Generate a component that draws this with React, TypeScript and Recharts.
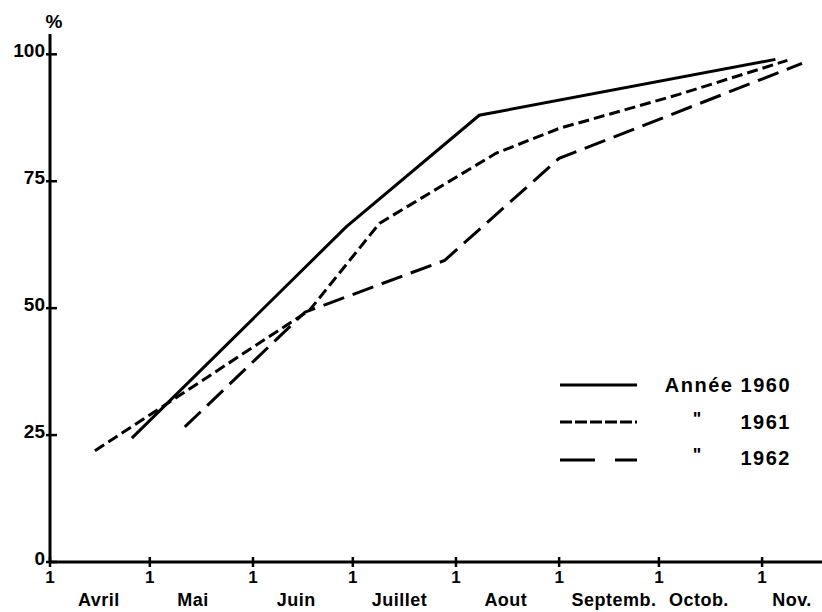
import React from 'react';
import { LineChart, Line, XAxis, YAxis, Legend, Customized } from 'recharts';

// Days counted from 1 April
const monthStartDays = [0, 30, 61, 91, 122, 153, 183, 214];
const monthStartLabels = ['1', '1', '1', '1', '1', '1', '1', '1'];
const monthNames = ['Avril', 'Mai', 'Juin', 'Juillet', 'Aout', 'Septemb.', 'Octob.', 'Nov.'];
const monthNameDays = [14.7, 43, 74, 105, 137, 169.5, 195, 223];

const yTicks = [0, 25, 50, 75, 100];

const legendLabels = ['Année 1960', '1961', '1962'];
const legendQuote = '"';

const days1960 = [24.6, 89, 129, 218];
const pct1960 = [24.4, 66, 88, 99];

const days1961 = [13.5, 78, 99, 134, 153, 189, 221.6];
const pct1961 = [21.9, 49.6, 66.7, 80.5, 85.4, 92.1, 98.8];

const days1962 = [40.5, 76.6, 118.6, 153, 226];
const pct1962 = [26.6, 49.2, 59.4, 79.5, 98.2];

const build = (d: number[], p: number[]) => d.map((day, i) => ({ day, v: p[i] }));
const data1960 = build(days1960, pct1960);
const data1961 = build(days1961, pct1961);
const data1962 = build(days1962, pct1962);

const FONT = '"Liberation Sans", Arial, sans-serif';

const XTick = (props: any) => {
  const { x, y, payload } = props;
  const v = payload.value;
  const si = monthStartDays.indexOf(v);
  if (si >= 0) {
    return (
      <g>
        <line x1={x} x2={x} y1={y - 5} y2={y + 5} stroke="#000" strokeWidth={2.5} />
        <text x={x} y={y + 21} textAnchor="middle" fontSize={17} fontWeight="bold" fontFamily={FONT} fill="#000">
          {monthStartLabels[si]}
        </text>
      </g>
    );
  }
  const mi = monthNameDays.indexOf(v);
  return (
    <text x={x} y={y + 44} textAnchor="middle" fontSize={18} fontWeight="bold" fontFamily={FONT} fill="#000" letterSpacing={0.5}>
      {mi >= 0 ? monthNames[mi] : ''}
    </text>
  );
};

const YTick = (props: any) => {
  const { x, y, payload } = props;
  return (
    <g>
      <line x1={x - 4} x2={x + 7} y1={y} y2={y} stroke="#000" strokeWidth={2.5} />
      <text x={x - 5} y={y + 3} textAnchor="end" fontSize={19} fontWeight="bold" fontFamily={FONT} fill="#000">
        {payload.value}
      </text>
    </g>
  );
};

const PercentSign = () => (
  <text x={54} y={28} textAnchor="middle" fontSize={19} fontWeight="bold" fontFamily={FONT} fill="#000">
    %
  </text>
);

const renderLegend = () => (
  <svg width={270} height={110} style={{ display: 'block' }}>
    <line x1={20} x2={97} y1={25} y2={25} stroke="#000" strokeWidth={3} />
    <text x={251} y={32} textAnchor="end" fontSize={20} fontWeight="bold" fontFamily={FONT} letterSpacing={1.5}>
      {legendLabels[0]}
    </text>
    <line x1={20} x2={97} y1={62} y2={62} stroke="#000" strokeWidth={3} strokeDasharray="12 3" />
    <text x={157} y={65} textAnchor="middle" fontSize={18} fontWeight="bold" fontFamily={FONT}>
      {legendQuote}
    </text>
    <text x={251} y={69} textAnchor="end" fontSize={20} fontWeight="bold" fontFamily={FONT} letterSpacing={1.5}>
      {legendLabels[1]}
    </text>
    <line x1={20} x2={97} y1={100} y2={100} stroke="#000" strokeWidth={3} strokeDasharray="35 20 22" />
    <text x={157} y={101} textAnchor="middle" fontSize={18} fontWeight="bold" fontFamily={FONT}>
      {legendQuote}
    </text>
    <text x={251} y={105} textAnchor="end" fontSize={20} fontWeight="bold" fontFamily={FONT} letterSpacing={1.5}>
      {legendLabels[2]}
    </text>
  </svg>
);

const allXTicks = [...monthStartDays, ...monthNameDays].sort((a, b) => a - b);

export default function App() {
  return (
    <div style={{ position: 'absolute', left: 0, top: 0, width: 822, height: 612, background: '#fff' }}>
      <LineChart width={822} height={612} margin={{ top: 34, right: 0, bottom: 0, left: 0 }}>
        <XAxis
          type="number"
          dataKey="day"
          domain={[0, 232]}
          ticks={allXTicks}
          interval={0}
          height={50}
          tickSize={0}
          tickMargin={0}
          tickLine={false}
          axisLine={{ stroke: '#000', strokeWidth: 3 }}
          tick={<XTick />}
          allowDataOverflow
        />
        <YAxis
          type="number"
          domain={[0, 104]}
          ticks={yTicks}
          interval={0}
          width={50}
          tickSize={0}
          tickMargin={0}
          tickLine={false}
          axisLine={{ stroke: '#000', strokeWidth: 3 }}
          tick={<YTick />}
          allowDataOverflow
        />
        <Legend
          layout="vertical"
          align="center"
          verticalAlign="middle"
          content={renderLegend}
          wrapperStyle={{ left: 540, top: 360, width: 270, height: 110 }}
        />
        <Line data={data1960} dataKey="v" name="1960" type="linear" stroke="#000" strokeWidth={3} dot={false} activeDot={false} isAnimationActive={false} />
        <Line data={data1961} dataKey="v" name="1961" type="linear" stroke="#000" strokeWidth={3} strokeDasharray="11 5" dot={false} activeDot={false} isAnimationActive={false} />
        <Line data={data1962} dataKey="v" name="1962" type="linear" stroke="#000" strokeWidth={3} strokeDasharray="22 9" dot={false} activeDot={false} isAnimationActive={false} />
        <Customized component={PercentSign} />
      </LineChart>
    </div>
  );
}
